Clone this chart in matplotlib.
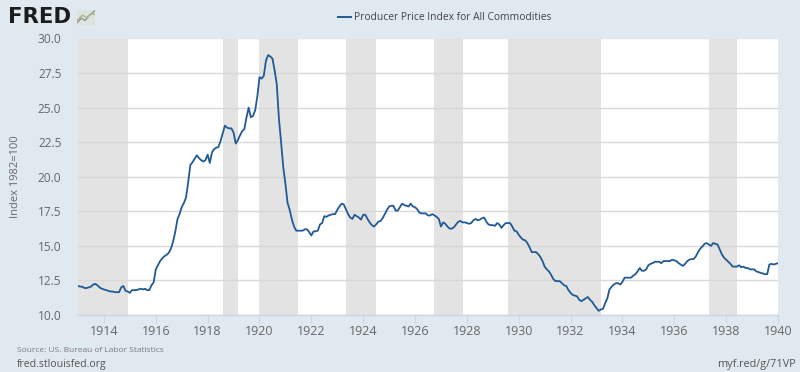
import matplotlib
matplotlib.use("Agg")
import matplotlib.pyplot as plt
import numpy as np

start_year = 1913
values_by_year = [
    [12.1,12.05,12.05,11.95,11.95,12.0,12.05,12.2,12.25,12.15,12.0,11.9],
    [11.85,11.8,11.75,11.7,11.7,11.65,11.65,11.65,12.0,12.1,11.75,11.7],
    [11.6,11.8,11.8,11.8,11.85,11.9,11.85,11.9,11.8,11.8,12.15,12.35],
    [13.3,13.6,13.9,14.1,14.25,14.35,14.5,14.8,15.3,16.0,16.9,17.3],
    [17.8,18.1,18.5,19.6,20.85,21.05,21.3,21.55,21.35,21.2,21.1,21.2],
    [21.6,21.0,21.75,22.0,22.1,22.15,22.6,23.15,23.7,23.55,23.5,23.5],
    [23.2,22.4,22.65,23.0,23.3,23.45,24.3,25.0,24.3,24.4,24.8,25.8],
    [27.2,27.1,27.3,28.4,28.8,28.7,28.55,27.7,26.7,24.2,22.5,20.7],
    [19.5,18.1,17.6,16.9,16.4,16.1,16.1,16.1,16.1,16.2,16.2,16.0],
    [15.75,16.05,16.05,16.1,16.55,16.65,17.15,17.1,17.2,17.25,17.3,17.3],
    [17.6,17.85,18.05,18.0,17.65,17.3,17.05,16.95,17.25,17.15,17.05,16.9],
    [17.25,17.25,16.95,16.7,16.5,16.4,16.55,16.75,16.8,17.0,17.3,17.6],
    [17.85,17.9,17.9,17.55,17.55,17.8,18.05,17.95,17.9,17.85,18.05,17.85],
    [17.8,17.65,17.4,17.35,17.35,17.35,17.2,17.2,17.3,17.2,17.1,16.95],
    [16.4,16.7,16.6,16.4,16.25,16.25,16.35,16.55,16.75,16.8,16.7,16.7],
    [16.65,16.6,16.65,16.85,16.95,16.85,16.9,17.0,17.05,16.75,16.55,16.5],
    [16.5,16.45,16.65,16.55,16.3,16.5,16.65,16.65,16.65,16.4,16.1,16.05],
    [15.8,15.6,15.45,15.4,15.2,14.9,14.55,14.55,14.55,14.4,14.2,13.9],
    [13.5,13.3,13.15,12.9,12.6,12.45,12.45,12.45,12.3,12.15,12.1,11.8],
    [11.6,11.45,11.4,11.35,11.1,11.0,11.1,11.2,11.3,11.1,10.95,10.7],
    [10.5,10.3,10.4,10.45,10.85,11.2,11.85,12.05,12.2,12.3,12.3,12.2],
    [12.4,12.7,12.7,12.7,12.7,12.85,12.95,13.15,13.4,13.2,13.2,13.3],
    [13.6,13.7,13.75,13.85,13.85,13.85,13.75,13.9,13.9,13.9,13.9,14.0],
    [13.95,13.9,13.75,13.65,13.55,13.7,13.9,14.0,14.05,14.05,14.25,14.55],
    [14.8,14.95,15.15,15.2,15.1,15.0,15.2,15.15,15.1,14.75,14.4,14.15],
    [14.0,13.85,13.7,13.5,13.5,13.5,13.6,13.45,13.5,13.4,13.4,13.3],
    [13.3,13.3,13.15,13.1,13.05,13.0,12.95,12.95,13.65,13.7,13.65,13.7],
    [13.75],
]
recession_starts = [(1913,1),(1918,8),(1920,1),(1923,5),(1926,10),(1929,8),(1937,5)]
recession_ends = [(1914,12),(1919,3),(1921,7),(1924,7),(1927,11),(1933,3),(1938,6)]
y_ticks = [10.0,12.5,15.0,17.5,20.0,22.5,25.0,27.5,30.0]
x_ticks = list(range(1914,1941,2))
series_name = "Producer Price Index for All Commodities"
y_label = "Index 1982=100"
source_text = "Source: US. Bureau of Labor Statistics"
left_foot = "fred.stlouisfed.org"
right_foot = "myf.red/g/71VP"

plt.rcParams['font.family'] = ['Open Sans', 'DejaVu Sans']
W, H = 800, 372
BG = '#e1e9f0'
TXT = '#666666'
LINE = '#215a94'
fig = plt.figure(figsize=(W/100, H/100), dpi=100, facecolor=BG)
ax = fig.add_axes([78/W, 1-315/H, 700/W, 276.5/H], facecolor='white')

flat = [v for row in values_by_year for v in row]
x = start_year + np.arange(len(flat))/12
dec = lambda ym: ym[0] + (ym[1]-1)/12
for s, e in zip(recession_starts, recession_ends):
    ax.axvspan(dec(s), dec(e), color='#e3e3e3', lw=0, zorder=1)
ax.set_ylim(10, 30)
ax.set_xlim(1913, 1940)
ax.set_yticks(y_ticks)
ax.set_yticklabels([f"{t:.1f}" for t in y_ticks], color=TXT, fontsize=8.6)
ax.set_xticks(x_ticks)
ax.set_xticklabels([str(t) for t in x_ticks], color=TXT, fontsize=9)
ax.grid(axis='y', color='#d8d8d8', lw=1, zorder=2)
ax.set_axisbelow(False)
ax.plot(x, flat, color=LINE, lw=1.3, zorder=3, solid_joinstyle='round')
for sp in ax.spines.values():
    sp.set_visible(False)
ax.tick_params(axis='y', length=0, pad=12)
ax.tick_params(axis='x', length=6, width=0.8, color='#ccd6eb', pad=1.5)
ax.axhline(10, color='#ccd6eb', lw=1, zorder=2, clip_on=False)

fig.text(16/W, 1-177/H, y_label, rotation=90, color=TXT, fontsize=8,
         ha='center', va='center')
fig.text(354/W, 1-17/H, series_name, color='#444444', fontsize=7.4, ha='left', va='center')
fig.add_artist(plt.Line2D([338/W, 351/W], [1-17/H, 1-17/H], color=LINE, lw=1.4))
fig.text(17/W, 1-350/H, source_text, color='#7a7a7a', fontsize=6.0, ha='left', va='center')
fig.text(17/W, 1-364/H, left_foot, color='#555555', fontsize=7.6, ha='left', va='center')
fig.text(796/W, 1-364/H, right_foot, color='#555555', fontsize=7.8, ha='right', va='center')

# FRED logo
fig.text(8/W, 1-17/H, "FRED", family='DejaVu Sans', fontweight='bold',
         fontsize=15.3, color='#1c1c1c', ha='left', va='center')
ic = fig.add_axes([77/W, 1-25/H, 18/W, 15/H], facecolor='#d9dcd8')
ic.set_xlim(0, 1); ic.set_ylim(0, 1); ic.axis('off')
ic.add_patch(plt.Rectangle((0, 0), 1, 1, color='#dfe3df'))
ic.plot([0, .25, .45, .65, 1], [.15, .45, .3, .6, .95], color='#8a9a8a', lw=1)
ic.plot([0, .3, .55, .75, 1], [.3, .65, .5, .75, .7], color='#b0b48a', lw=1)

fig.savefig('out.png', dpi=100, facecolor=BG)
